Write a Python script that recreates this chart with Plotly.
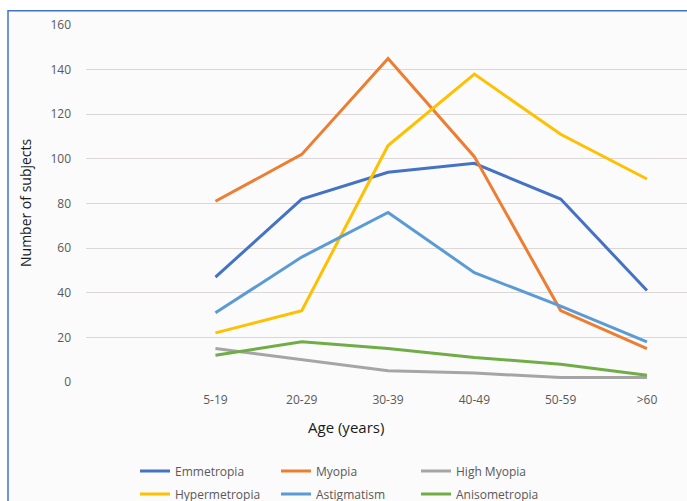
import plotly.graph_objects as go

age_groups = ["5-19", "20-29", "30-39", "40-49", "50-59", ">60"]
emmetropia = [47, 82, 94, 98, 82, 41]
myopia = [81, 102, 145, 101, 32, 15]
high_myopia = [15, 10, 5, 4, 2, 2]
hypermetropia = [22, 32, 106, 138, 111, 91]
astigmatism = [31, 56, 76, 49, 34, 18]
anisometropia = [12, 18, 15, 11, 8, 3]
y_ticks = [0, 20, 40, 60, 80, 100, 120, 140, 160]

series = [
    ("Emmetropia", emmetropia, "#4472C4", "legend"),
    ("Myopia", myopia, "#ED7D31", "legend2"),
    ("High Myopia", high_myopia, "#A5A5A5", "legend3"),
    ("Hypermetropia", hypermetropia, "#FFC000", "legend"),
    ("Astigmatism", astigmatism, "#5B9BD5", "legend2"),
    ("Anisometropia", anisometropia, "#70AD47", "legend3"),
]

x_idx = list(range(len(age_groups)))

fig = go.Figure()
for name, vals, color, lg in series:
    fig.add_trace(go.Scatter(
        x=x_idx, y=vals, name=name, mode="lines",
        line=dict(color=color, width=3),
        legend=lg, legendgroup=name, hoverinfo="skip",
    ))

W, H = 687, 501
ML, MR, MT, MB = 86, 0, 25, 119
PW = W - ML - MR
PH = H - MT - MB


def px_x(p):
    return (p - ML) / PW


def px_y(p):
    return (H - MB - p) / PH


legend_font = dict(family="Open Sans", size=12, color="#595959")
leg_common = dict(
    orientation="v", traceorder="grouped", tracegroupgap=4,
    bgcolor="rgba(0,0,0,0)", font=legend_font, itemwidth=30,
    xanchor="left", yanchor="top", y=px_y(456.5),
)

fig.update_layout(
    width=W, height=H,
    margin=dict(l=ML, r=MR, t=MT, b=MB, pad=0, autoexpand=False),
    paper_bgcolor="white",
    plot_bgcolor="rgba(0,0,0,0)",
    showlegend=True,
    legend=dict(x=px_x(135), **leg_common),
    legend2=dict(x=px_x(276), **leg_common),
    legend3=dict(x=px_x(416), **leg_common),
    xaxis=dict(
        range=[-1.5, -1.5 + PW / 86.3],
        tickmode="array", tickvals=x_idx, ticktext=age_groups,
        showgrid=False, zeroline=False, showline=False, ticks="",
        tickfont=dict(family="Open Sans", size=12, color="#595959"),
        ticklabelstandoff=9,
    ),
    yaxis=dict(
        range=[0, 160], tickmode="array", tickvals=y_ticks,
        showgrid=True, gridcolor="#DCD7D7", gridwidth=1,
        zeroline=False, showline=False, ticks="",
        tickfont=dict(family="Open Sans", size=12, color="#595959"),
        ticklabelstandoff=14,
    ),
    shapes=[
        dict(type="rect", xref="paper", yref="paper",
             x0=px_x(8), x1=px_x(720), y0=px_y(540), y1=px_y(10.7),
             fillcolor="#FBFBFB", line=dict(color="#4472C4", width=1.5),
             layer="below"),
    ],
    annotations=[
        dict(text="Age (years)", xref="paper", yref="paper",
             x=px_x(346), y=px_y(427), showarrow=False,
             xanchor="center", yanchor="middle",
             font=dict(family="Open Sans", size=15, color="#1A1A1A")),
        dict(text="Number of subjects", xref="paper", yref="paper",
             x=px_x(25), y=px_y(203), showarrow=False, textangle=-90,
             xanchor="center", yanchor="middle",
             font=dict(family="Open Sans", size=14, color="#1A1A1A")),
    ],
)

fig.write_html(
    "out.html",
    config={"displayModeBar": False},
    post_script="document.body.style.margin='0';document.body.style.overflow='hidden';",
)
